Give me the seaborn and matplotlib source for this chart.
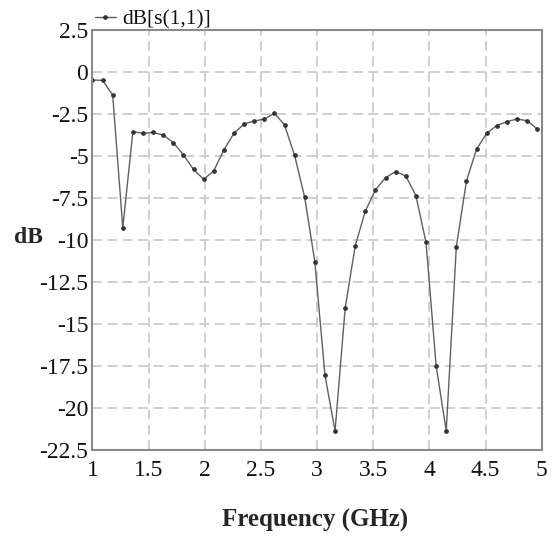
import pandas as pd
import seaborn as sns
import matplotlib.pyplot as plt

# frequency sweep (GHz) and return loss (dB)
freq_ghz = [
    1.00, 1.09, 1.18, 1.27, 1.36, 1.45, 1.54, 1.63, 1.72, 1.81,
    1.90, 1.99, 2.08, 2.17, 2.26, 2.35, 2.44, 2.53, 2.62, 2.71,
    2.80, 2.89, 2.98, 3.07, 3.16, 3.25, 3.34, 3.43, 3.52, 3.61,
    3.70, 3.79, 3.88, 3.97, 4.06, 4.15, 4.24, 4.33, 4.42, 4.51,
    4.60, 4.69, 4.78, 4.87, 4.96,
]
s11_db = [
    -0.48, -0.50, -1.37, -9.27, -3.55, -3.65, -3.60, -3.75, -4.20, -4.94,
    -5.80, -6.39, -5.89, -4.64, -3.65, -3.10, -2.92, -2.80, -2.46, -3.15,
    -4.97, -7.47, -11.29, -18.04, -21.37, -14.07, -10.34, -8.27, -7.02, -6.29,
    -5.93, -6.19, -7.36, -10.14, -17.48, -21.37, -10.40, -6.49, -4.60, -3.65,
    -3.19, -2.96, -2.80, -2.90, -3.39,
]
x_ticks = [1, 1.5, 2, 2.5, 3, 3.5, 4, 4.5, 5]
x_tick_labels = ['1', '1.5', '2', '2.5', '3', '3.5', '4', '4.5', '5']
y_ticks = [2.5, 0, -2.5, -5, -7.5, -10, -12.5, -15, -17.5, -20, -22.5]
y_tick_labels = ['2.5', '0', '-2.5', '-5', '-7.5', '-10', '-12.5', '-15', '-17.5', '-20', '-22.5']
series_name = 'dB[s(1,1)]'

sns.set_style('white')
plt.rcParams['font.family'] = ['Liberation Serif', 'DejaVu Serif']

df = pd.DataFrame({'freq': freq_ghz, 'db': s11_db, 'trace': series_name})

fig = plt.figure(figsize=(5.57, 5.40), dpi=100)
ax = fig.add_axes([0.166, 0.1667, 0.8065, 0.7778])

sns.lineplot(
    data=df, x='freq', y='db', hue='trace',
    palette=['#606060'], marker='o', markersize=2.6,
    markerfacecolor='#333333', markeredgecolor='#333333',
    linewidth=1.0, ax=ax,
)

ax.set_xlim(1, 5)
ax.set_ylim(-22.5, 2.5)
ax.set_xticks(x_ticks)
ax.set_xticklabels(x_tick_labels)
ax.set_yticks(y_ticks)
ax.set_yticklabels(y_tick_labels)
ax.tick_params(axis='both', length=0, labelsize=17, colors='#111111')
ax.tick_params(axis='x', pad=7)
ax.tick_params(axis='y', pad=3)

ax.grid(True, color='#cccccc', linewidth=1.3, linestyle=(0, (5.5, 3.0)))
for side in ax.spines.values():
    side.set_color('#8a8a8a')
    side.set_linewidth(1.5)

ax.set_xlabel('Frequency (GHz)', fontsize=18, fontweight='bold')
ax.xaxis.set_label_coords(0.495, -0.167)
ax.xaxis.label.set_va('center')
ax.set_ylabel('dB', fontsize=17, fontweight='bold', rotation=0)
ax.yaxis.set_label_coords(-0.142, 0.505)
ax.yaxis.label.set_va('center')
ax.yaxis.label.set_ha('center')

leg = ax.legend(
    loc='center left', bbox_to_anchor=(0.005, 1.026), frameon=False,
    fontsize=15.5, handlelength=1.0, handletextpad=0.3,
    borderpad=0, borderaxespad=0,
)
for txt in leg.get_texts():
    txt.set_color('#111111')

fig.savefig('out.png', dpi=100)
